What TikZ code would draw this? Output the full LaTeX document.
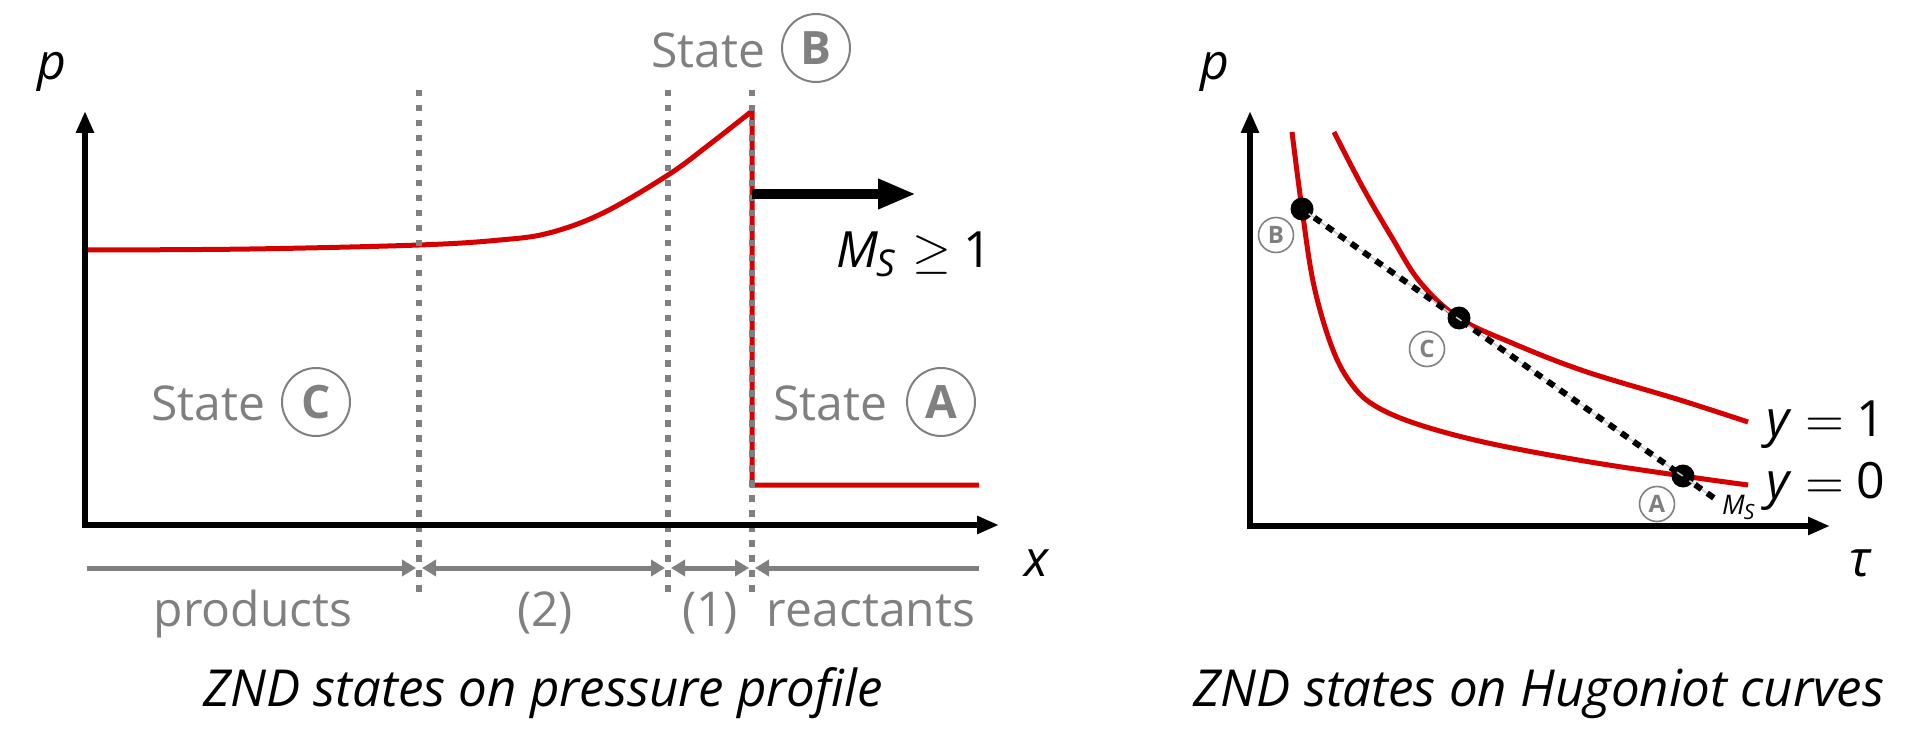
\documentclass[tikz,border=0pt]{standalone}
\usepackage{fontspec}
\setmainfont{Open Sans}
\DeclareFontShape{OMS}{cmsy}{m}{n}{<->cmsy10}{}
\DeclareFontShape{OT1}{cmr}{m}{n}{<->cmr10}{}
\usetikzlibrary{arrows.meta}
\definecolor{zgray}{RGB}{128,128,128}
\definecolor{zred}{RGB}{213,0,0}
\definecolor{zlight}{RGB}{205,205,205}
\newcommand\fs[1]{\fontsize{#1}{#1}\selectfont}
\newcommand\geqsym{$\geq$}
\newcommand\eqsym{{\fontencoding{OT1}\fontfamily{cmr}\selectfont =}}
\begin{document}
\begin{tikzpicture}[x=1pt,y=-1pt,
  big/.style={font=\fs{48}, inner sep=0pt},
  graytxt/.style={big, text=zgray},
  circlbl/.style={circle, draw=zgray, line width=2pt, minimum size=68pt, inner sep=0pt, text=zgray, font=\bfseries\fs{46}},
  smallcirc/.style={circle, draw=zgray, line width=1.6pt, minimum size=35pt, inner sep=0pt, text=zgray, font=\bfseries\fs{24}},
  axis/.style={line width=5.5pt, {Triangle[length=22pt,width=17pt]}-{Triangle[length=22pt,width=17pt]}},
  redline/.style={zred, line width=5pt},
  vdash/.style={zgray, line width=6pt, dash pattern=on 6.5pt off 8.5pt},
  grayarr/.style={zgray, line width=5pt},
  dot/.style={circle, fill=black, minimum size=23pt, inner sep=0pt},
  caption/.style={font=\itshape\fs{51}, inner sep=0pt, anchor=base},
  mathtxt/.style={inner sep=0pt, font=\fs{50}},
]
\useasboundingbox (0,0) rectangle (1906,735);

% ---------------- left plot ----------------
\coordinate (O1) at (85,525);
\coordinate (Y1) at (85,111);
\coordinate (X1) at (999,525);

\draw[redline] plot[smooth, tension=0.6] coordinates {(85,250) (250,249) (419,245) (500,240) (549,233) (603,213) (668,175) (710,144) (752,111)}
  -- (752,485) -- (979,485);

\coordinate (v1t) at (419,90);  \coordinate (v1b) at (419,592);
\coordinate (v2t) at (668,90);  \coordinate (v2b) at (668,592);
\coordinate (v3t) at (752,90);  \coordinate (v3b) at (752,592);
\draw[vdash] (v1t) -- (v1b);
\draw[vdash] (v2t) -- (v2b);
\draw[vdash] (v3t) -- (v3b);

\draw[axis] (Y1) |- (X1);

\node[anchor=base, big, font=\itshape\fs{50}] (p1) at (52,80) {p};
\node[anchor=base, big, font=\itshape\fs{50}] (x1) at (1036,576) {x};

\coordinate (sa) at (752,194);
\coordinate (sb) at (916,194);
\draw[line width=10pt, -{Triangle[length=38pt,width=28pt]}] (sa) -- (sb);

\node[mathtxt, anchor=base west] (ms) at (836,268)
  {\textit{M}\hspace{-2pt}\raisebox{-9pt}{\fs{37}\textit{S}}\hspace{17pt}\geqsym\hspace{12pt}1};

\node[graytxt, anchor=base west] (stB) at (651,68) {State};
\node[circlbl] (cB) at (816,48) {B};
\node[graytxt, anchor=base west] (stC) at (151,420) {State};
\node[circlbl] (cC) at (316,402) {C};
\node[graytxt, anchor=base west] (stA) at (773,420) {State};
\node[circlbl] (cA) at (941,402) {A};

% gray segment arrows
\coordinate (g0) at (87,568);
\coordinate (g1) at (419,568);
\coordinate (g2) at (668,568);
\coordinate (g3) at (752,568);
\coordinate (g4) at (979,568);
\draw[grayarr, -{Triangle[length=14pt,width=16pt]}, shorten >=3pt] (g0) -- (g1);
\draw[grayarr, {Triangle[length=14pt,width=16pt]}-{Triangle[length=14pt,width=16pt]}, shorten >=3pt, shorten <=3pt] (g1) -- (g2);
\draw[grayarr, {Triangle[length=14pt,width=16pt]}-{Triangle[length=14pt,width=16pt]}, shorten >=3pt, shorten <=3pt] (g2) -- (g3);
\draw[grayarr, {Triangle[length=14pt,width=16pt]}-, shorten <=3pt] (g3) -- (g4);

\node[graytxt, anchor=base] (lp) at (253,626) {products};
\node[graytxt, anchor=base] (l2) at (545,626) {(2)};
\node[graytxt, anchor=base] (l1) at (710,626) {(1)};
\node[graytxt, anchor=base] (lr) at (871,626) {reactants};

\node[caption] (cap1) at (543,706) {ZND states on pressure profile};

% ---------------- right plot ----------------
\coordinate (O2) at (1250,526);
\coordinate (Y2) at (1250,111);
\coordinate (X2) at (1830,526);

\draw[redline] plot[smooth, tension=0.6] coordinates {(1292,132) (1302,209) (1314,286) (1333,350) (1353,386) (1377,407) (1420,425) (1488,443) (1584,461) (1683,476) (1748,485)};
\draw[redline] plot[smooth, tension=0.6] coordinates {(1334,132) (1362,186) (1391,236) (1420,282) (1459,318) (1512,343) (1584,371) (1680,400) (1748,422)};

\node[dot] (pB) at (1302,209) {};
\node[dot] (pC) at (1459,318) {};
\node[dot] (pA) at (1683,476) {};
\coordinate (pE) at (1714,498);
\draw[zlight, line width=1.5pt] (pB.center) -- (pE);
\draw[black, line width=6pt, dash pattern=on 8pt off 7pt] (pB.center) -- (pE);

\draw[axis] (Y2) |- (X2);

\node[anchor=base, big, font=\itshape\fs{50}] (p2) at (1215,80) {p};
\node[anchor=base, big, font=\itshape\fs{50}] (tau) at (1860,576) {τ};

\node[smallcirc] (sB) at (1276,235) {B};
\node[smallcirc] (sC) at (1427,349) {C};
\node[smallcirc] (sA) at (1657,504) {A};

\node[anchor=base west, inner sep=0pt, font=\fs{27}] (ms2) at (1722,514)
  {\textit{M}\hspace{-1pt}\raisebox{-5pt}{\fs{21}\textit{S}}};

\node[mathtxt, anchor=base west] (y1) at (1766,436) {\textit{y}\hspace{14pt}\eqsym\hspace{12pt}1};
\node[mathtxt, anchor=base west] (y0) at (1766,498) {\textit{y}\hspace{14pt}\eqsym\hspace{12pt}0};

\node[caption] (cap2) at (1539,706) {ZND states on Hugoniot curves};
\end{tikzpicture}
\end{document}
